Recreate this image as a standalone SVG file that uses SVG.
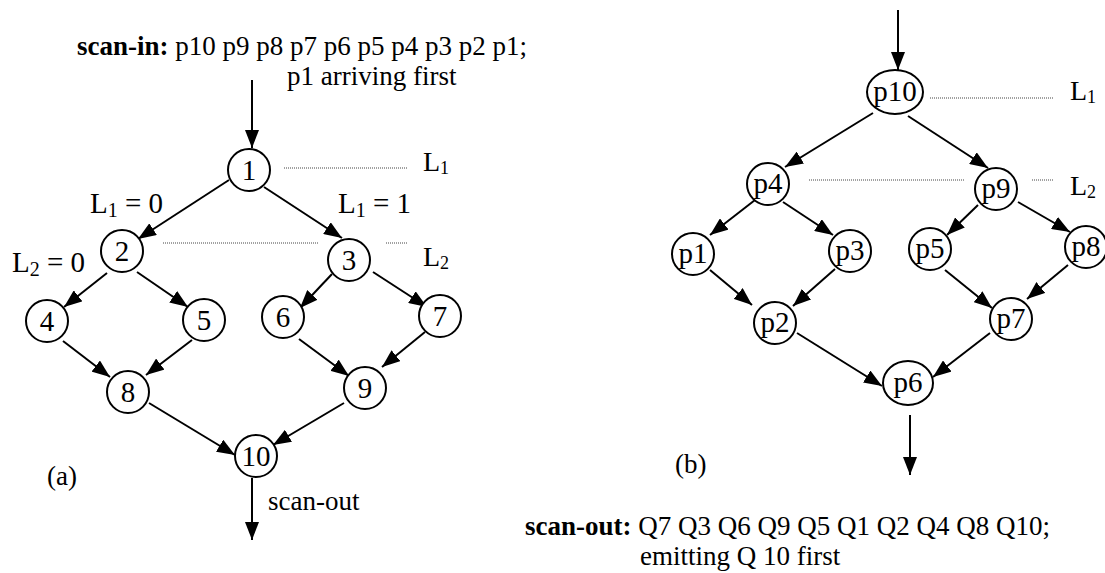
<svg xmlns="http://www.w3.org/2000/svg" width="1105" height="573" viewBox="0 0 1105 573">
<style>
text{font-family:"Liberation Serif","Times New Roman",serif;fill:#000}
.n{fill:#fff;stroke:#000;stroke-width:2}
.lbl{font-size:29px;text-anchor:middle}
.t{font-size:27px}
.b{font-weight:bold}
.big{font-size:29px}
.lv{font-size:28px}
.e{fill:none;stroke:#000;stroke-width:2;marker-end:url(#ah)}
.d{fill:none;stroke:#444;stroke-width:1;stroke-dasharray:1 1}
</style>
<defs>
<marker id="ah" markerUnits="userSpaceOnUse" markerWidth="18" markerHeight="14" viewBox="0 0 18 14" refX="18" refY="7" orient="auto">
<path d="M0,0 L18,7 L0,14 z" fill="#000"/>
</marker>
</defs>

<g id="connectors">
<!-- (a) -->
<line class="e" x1="252" y1="80" x2="252" y2="148"/>
<line class="e" x1="229" y1="180" x2="138" y2="239"/>
<line class="e" x1="264" y1="187" x2="342" y2="238"/>
<line class="e" x1="107" y1="273" x2="64" y2="307"/>
<line class="e" x1="137" y1="272" x2="188" y2="307"/>
<line class="e" x1="332" y1="274" x2="300" y2="308"/>
<line class="e" x1="373" y1="272" x2="427" y2="307"/>
<line class="e" x1="63" y1="341" x2="110" y2="377"/>
<line class="e" x1="192" y1="340" x2="146" y2="375"/>
<line class="e" x1="299" y1="339" x2="349" y2="376"/>
<line class="e" x1="425" y1="332" x2="382" y2="367"/>
<line class="e" x1="149" y1="403" x2="235" y2="455"/>
<line class="e" x1="344" y1="403" x2="273" y2="445"/>
<line class="e" x1="252" y1="478" x2="252" y2="540"/>
<!-- (b) -->
<line class="e" x1="898" y1="10" x2="898" y2="70"/>
<line class="e" x1="873" y1="113" x2="785" y2="167"/>
<line class="e" x1="908" y1="116" x2="988" y2="168"/>
<line class="e" x1="755" y1="200" x2="710" y2="235"/>
<line class="e" x1="783" y1="202" x2="833" y2="235"/>
<line class="e" x1="978" y1="205" x2="947" y2="235"/>
<line class="e" x1="1018" y1="202" x2="1070" y2="232"/>
<line class="e" x1="710" y1="270" x2="752" y2="305"/>
<line class="e" x1="835" y1="269" x2="793" y2="306"/>
<line class="e" x1="945" y1="270" x2="992" y2="308"/>
<line class="e" x1="1068" y1="265" x2="1027" y2="299"/>
<line class="e" x1="797" y1="333" x2="882" y2="386"/>
<line class="e" x1="990" y1="333" x2="933" y2="377"/>
<line class="e" x1="910" y1="415" x2="910" y2="475"/>
</g>

<g id="levels">
<line class="d" x1="284" y1="168" x2="408" y2="168"/>
<line class="d" x1="163" y1="243" x2="318" y2="243"/>
<line class="d" x1="386" y1="243" x2="407" y2="243"/>
<line class="d" x1="930" y1="98" x2="1054" y2="98"/>
<line class="d" x1="809" y1="180" x2="964" y2="180"/>
<line class="d" x1="1032" y1="180" x2="1053" y2="180"/>
<text class="lv" x="423" y="171">L<tspan font-size="18" dy="3">1</tspan></text>
<text class="lv" x="423" y="266">L<tspan font-size="18" dy="3">2</tspan></text>
<text class="lv" x="1070" y="100">L<tspan font-size="18" dy="3">1</tspan></text>
<text class="lv" x="1070" y="195">L<tspan font-size="18" dy="3">2</tspan></text>
<text class="big" x="90" y="213">L<tspan font-size="20" dy="4">1</tspan><tspan dy="-4"> = 0</tspan></text>
<text class="big" x="338" y="213">L<tspan font-size="20" dy="4">1</tspan><tspan dy="-4"> = 1</tspan></text>
<text class="big" x="12" y="272">L<tspan font-size="20" dy="4">2</tspan><tspan dy="-4"> = 0</tspan></text>
</g>

<g id="a-nodes">
<g id="n1"><circle class="n" cx="249" cy="170" r="21"/><text class="lbl" x="249" y="180">1</text></g>
<g id="n2"><circle class="n" cx="122" cy="251" r="21"/><text class="lbl" x="122" y="261">2</text></g>
<g id="n3"><circle class="n" cx="349" cy="260" r="21"/><text class="lbl" x="349" y="270">3</text></g>
<g id="n4"><circle class="n" cx="47" cy="321" r="21"/><text class="lbl" x="47" y="331">4</text></g>
<g id="n5"><circle class="n" cx="204" cy="320" r="21"/><text class="lbl" x="204" y="330">5</text></g>
<g id="n6"><circle class="n" cx="283" cy="317" r="21"/><text class="lbl" x="283" y="327">6</text></g>
<g id="n7"><circle class="n" cx="440" cy="316" r="21"/><text class="lbl" x="440" y="326">7</text></g>
<g id="n8"><circle class="n" cx="128" cy="392" r="21"/><text class="lbl" x="128" y="402">8</text></g>
<g id="n9"><circle class="n" cx="365" cy="388" r="21"/><text class="lbl" x="365" y="398">9</text></g>
<g id="n10"><circle class="n" cx="256" cy="456" r="21"/><text class="lbl" x="256" y="466">10</text></g>
</g>

<g id="b-nodes">
<g id="p10"><ellipse class="n" cx="895" cy="92" rx="28" ry="22"/><text class="lbl" x="895" y="101">p10</text></g>
<g id="p4"><circle class="n" cx="768" cy="184" r="21"/><text class="lbl" x="768" y="193">p4</text></g>
<g id="p9"><circle class="n" cx="996" cy="189" r="21"/><text class="lbl" x="996" y="198">p9</text></g>
<g id="p1"><circle class="n" cx="693" cy="254" r="21"/><text class="lbl" x="693" y="263">p1</text></g>
<g id="p3"><circle class="n" cx="850" cy="251" r="21"/><text class="lbl" x="850" y="260">p3</text></g>
<g id="p5"><circle class="n" cx="930" cy="249" r="21"/><text class="lbl" x="930" y="258">p5</text></g>
<g id="p8"><circle class="n" cx="1086" cy="247" r="21"/><text class="lbl" x="1086" y="256">p8</text></g>
<g id="p2"><circle class="n" cx="775" cy="323" r="21"/><text class="lbl" x="775" y="332">p2</text></g>
<g id="p7"><circle class="n" cx="1011" cy="319" r="21"/><text class="lbl" x="1011" y="328">p7</text></g>
<g id="p6"><ellipse class="n" cx="908" cy="383" rx="25" ry="22"/><text class="lbl" x="908" y="392">p6</text></g>
</g>

<g id="captions">
<text class="t" x="77" y="55"><tspan class="b">scan-in:</tspan> p10 p9 p8 p7 p6 p5 p4 p3 p2 p1;</text>
<text class="t" x="287" y="85">p1 arriving first</text>
<text class="t" x="268" y="510" font-size="26">scan-out</text>
<text class="t" x="47" y="485" font-size="29">(a)</text>
<text class="t" x="675" y="473" font-size="30">(b)</text>
<text class="t" x="525" y="535"><tspan class="b">scan-out:</tspan> Q7 Q3 Q6 Q9 Q5 Q1 Q2 Q4 Q8 Q10;</text>
<text class="t" x="640" y="565">emitting Q 10 first</text>
</g>
</svg>
